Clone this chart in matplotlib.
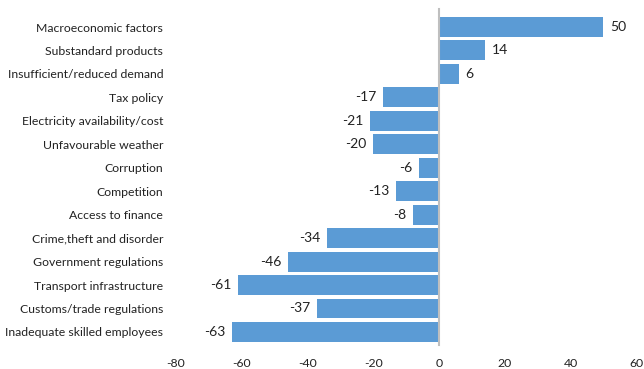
import matplotlib.pyplot as plt
import numpy as np

plt.rcParams['font.family'] = ['Lato', 'DejaVu Sans']

categories = ['Macroeconomic factors', 'Substandard products', 'Insufficient/reduced demand',
              'Tax policy', 'Electricity availability/cost', 'Unfavourable weather',
              'Corruption', 'Competition', 'Access to finance', 'Crime,theft and disorder',
              'Government regulations', 'Transport infrastructure', 'Customs/trade regulations',
              'Inadequate skilled employees']
values = [50, 14, 6, -17, -21, -20, -6, -13, -8, -34, -46, -61, -37, -63]
xticks = [-80, -60, -40, -20, 0, 20, 40, 60]

fig = plt.figure(figsize=(6.44, 3.69), dpi=100)
ax = fig.add_axes([0.273, 0.0686, 0.715, 0.890])

y = np.arange(len(categories))
ax.barh(y, values, height=0.85, color='#5B9BD5', zorder=2)
ax.set_ylim(len(categories) - 0.5, -0.5)
ax.set_xlim(-80, 60)
ax.set_xticks(xticks)
ax.set_xticklabels([str(t) for t in xticks])
ax.set_yticks(y)
ax.set_yticklabels(categories)
ax.tick_params(axis='both', length=0, labelsize=8.8, colors='#222222')
ax.tick_params(axis='x', pad=10)
ax.tick_params(axis='y', pad=9)
for s in ax.spines.values():
    s.set_visible(False)
ax.axvline(0, color='#BFBFBF', lw=1.5, ymin=-0.005, ymax=1.02, clip_on=False, zorder=3)

for yi, v in zip(y, values):
    if v >= 0:
        ax.text(v + 2, yi, str(v), va='center', ha='left', fontsize=10, color='#222222')
    else:
        ax.text(v - 2, yi, str(v), va='center', ha='right', fontsize=10, color='#222222')

fig.savefig('out.png', dpi=100)
